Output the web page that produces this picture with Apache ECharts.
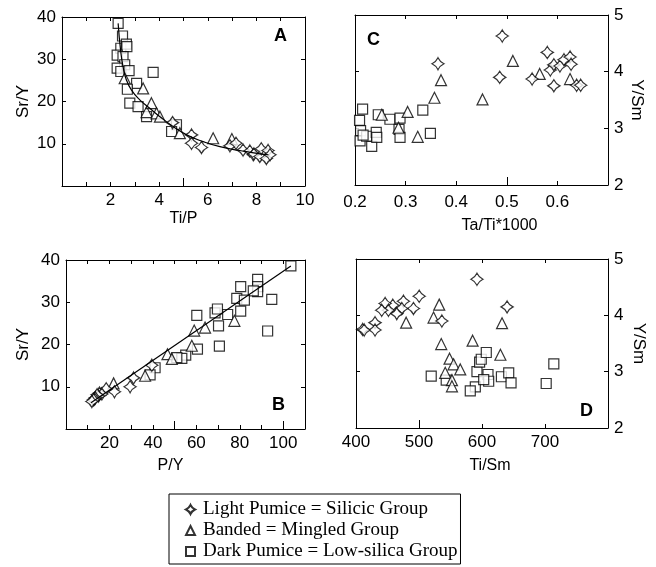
<!DOCTYPE html>
<html>
<head>
<meta charset="utf-8">
<title>Sr/Y and Y/Sm plots</title>
<script src="https://cdn.jsdelivr.net/npm/echarts@6/dist/echarts.min.js"></script>
<style>
  html, body { margin: 0; padding: 0; background: #fff; }
  #chart { width: 656px; height: 567px; }
</style>
</head>
<body>
<div id="chart"></div>
<script>
// 图例名
const LIGHT = 'Light Pumice = Silicic Group';
const BANDED = 'Banded = Mingled Group';
const DARK = 'Dark Pumice = Low-silica Group';

// A: Ti/P vs Sr/Y
const aLight = [[4.55, 15.0], [5.33, 12.1], [5.33, 10.1], [5.74, 9.1], [6.91, 9.5], [7.16, 10.1], [7.45, 8.5], [7.73, 8.3], [7.87, 7.4], [7.9, 7.6], [8.14, 7.0], [8.2, 8.8], [8.41, 6.5], [8.48, 8.4], [8.56, 7.4]];
const aBanded = [[2.58, 25.5], [3.34, 23.1], [3.48, 17.5], [3.68, 19.6], [3.89, 17.2], [4.03, 16.4], [4.85, 12.5], [6.22, 11.3], [6.99, 11.1]];
const aDark = [[2.31, 38.5], [2.49, 35.5], [2.42, 32.6], [2.65, 33.6], [2.67, 33.0], [2.27, 31.0], [2.51, 30.6], [2.58, 28.7], [2.27, 27.9], [2.42, 27.1], [2.76, 27.3], [3.75, 26.9], [3.07, 24.3], [2.69, 22.9], [2.79, 19.6], [3.13, 18.8], [3.48, 16.4], [4.71, 14.5], [4.51, 12.9]];
const aCurve = [[2.31, 38.5], [2.41, 32.2], [2.51, 28.3], [2.65, 25.1], [2.86, 22.7], [3.2, 20.4], [3.61, 18.4], [4.03, 16.4], [4.57, 14.1], [5.13, 12.1], [5.81, 10.5], [6.5, 9.3], [7.32, 8.4], [8.15, 7.6], [8.5, 7.4]];

// B: P/Y vs Sr/Y
const bLight = [[39.5, 15.1], [31.1, 12.1], [29.5, 10.0], [22.3, 8.8], [18.5, 9.5], [15.4, 8.5], [16.5, 8.3], [15.0, 7.8], [14.3, 8.1], [13.5, 7.4], [13.2, 7.1], [12.7, 6.9], [11.9, 6.5]];
const bBanded = [[77.5, 25.6], [59.0, 23.3], [64.0, 24.0], [57.9, 19.7], [46.7, 17.7], [48.7, 16.6], [36.4, 12.6], [21.9, 10.8]];
const bDark = [[103.5, 38.6], [88.2, 35.4], [88.2, 33.7], [88.2, 32.5], [86.2, 32.7], [80.4, 33.7], [78.6, 30.9], [82.1, 30.5], [94.7, 30.7], [80.4, 27.9], [92.8, 23.2], [60.2, 26.9], [68.6, 27.5], [69.7, 28.4], [74.4, 27.1], [70.2, 24.4], [60.5, 18.9], [70.6, 19.6], [55.1, 17.5], [53.3, 16.7], [51.0, 16.9], [41.0, 14.5], [38.7, 12.8]];
const bLine = [[11.5, 6.2], [103.5, 38.6]];

// C: Ta/Ti*1000 vs Y/Sm
const cLight = [[0.491, 4.63], [0.364, 4.14], [0.486, 3.90], [0.580, 4.34], [0.550, 3.87], [0.593, 3.75], [0.586, 4.03], [0.593, 4.12], [0.605, 4.10], [0.613, 4.21], [0.625, 4.26], [0.627, 4.13], [0.638, 3.76], [0.646, 3.76]];
const cBanded = [[0.370, 3.85], [0.357, 3.54], [0.452, 3.51], [0.512, 4.19], [0.565, 3.96], [0.625, 3.87], [0.304, 3.29], [0.324, 2.85], [0.253, 3.24], [0.286, 3.01]];
const cDark = [[0.209, 3.14], [0.215, 3.34], [0.211, 2.96], [0.210, 2.78], [0.223, 2.86], [0.233, 2.68], [0.242, 2.93], [0.243, 2.84], [0.246, 3.24], [0.269, 3.16], [0.289, 3.18], [0.287, 2.98], [0.289, 2.84], [0.334, 3.32], [0.349, 2.91], [0.216, 2.88]];

// D: Ti/Sm vs Y/Sm
const dLight = [[592, 4.64], [639.8, 4.15], [500.3, 4.34], [491.2, 4.12], [475.3, 4.25], [472.7, 4.12], [464.7, 4.03], [458.4, 4.18], [446.2, 4.21], [451.5, 4.09], [440.8, 4.09], [430.2, 3.87], [430.2, 3.74], [410.6, 3.75], [413, 3.74], [536.3, 3.90]];
const dBanded = [[532.1, 4.19], [523.1, 3.96], [479.6, 3.87], [631.8, 3.86], [585.1, 3.55], [535.3, 3.49], [629.2, 3.30], [548.5, 3.23], [554.9, 3.13], [565.5, 3.04], [541.6, 2.98], [552.3, 2.85], [552.3, 2.74]];
const dDark = [[519.4, 2.92], [543.2, 2.85], [592, 3.0], [596.2, 3.17], [598.8, 3.22], [606.8, 3.34], [589.4, 2.73], [581.4, 2.66], [609.5, 2.95], [610.6, 2.83], [602.7, 2.86], [630.8, 2.91], [642.4, 2.98], [646.1, 2.80], [701.9, 2.79], [714, 3.14]];

// tick labels
const aXLabels = [2, 4, 6, 8, 10];
const bXLabels = [20, 40, 60, 80, 100];
const cXLabels = [0.2, 0.3, 0.4, 0.5, 0.6];
const dXLabels = [400, 500, 600, 700];
const srYLabels = [10, 20, 30, 40];
const ySmLabels = [2, 3, 4, 5];

const sans = 'Liberation Sans, Arial, Helvetica, sans-serif';
// 浅色浮岩的四角星符号
const starPath = 'path://M0,-6 Q1.9,-1.9 6,0 Q1.9,1.9 0,6 Q-1.9,1.9 -6,0 Q-1.9,-1.9 0,-6 Z';

const panels = [
  { // A
    grid: { left: 62, top: 17, width: 243, height: 169 },
    x: { min: 0, max: 10, step: 1, labels: aXLabels, major: [5], name: 'Ti/P', margin: 6, gap: 25, shift: 0 },
    y: { min: 0, max: 40, step: 10, labels: srYLabels, name: 'Sr/Y', side: 'left', gap: 30 },
    light: aLight, banded: aBanded, dark: aDark, fit: aCurve, smooth: true
  },
  { // C
    grid: { left: 355, top: 15, width: 253, height: 170 },
    x: { min: 0.2, max: 0.7, step: 0.1, labels: cXLabels, major: [0.5], name: 'Ta/Ti*1000', margin: 9, gap: 33, shift: 36 },
    y: { min: 2, max: 5, step: 1, labels: ySmLabels, name: 'Y/Sm', side: 'right', gap: 20 },
    light: cLight, banded: cBanded, dark: cDark
  },
  { // B
    grid: { left: 66, top: 260, width: 239, height: 169 },
    x: { min: 0, max: 110, step: 10, labels: bXLabels, major: [50, 100], name: 'P/Y', margin: 6, gap: 29, shift: -30 },
    y: { min: 0, max: 40, step: 10, labels: srYLabels, name: 'Sr/Y', side: 'left', gap: 34 },
    light: bLight, banded: bBanded, dark: bDark, fit: bLine, smooth: false
  },
  { // D
    grid: { left: 356, top: 259, width: 252, height: 169 },
    x: { min: 400, max: 800, step: 100, labels: dXLabels, major: [500], name: 'Ti/Sm', margin: 6, gap: 30, shift: 16 },
    y: { min: 2, max: 5, step: 1, labels: ySmLabels, name: 'Y/Sm', side: 'right', gap: 22 },
    light: dLight, banded: dBanded, dark: dDark
  }
];

const lineStyle = { color: '#000', width: 1 };
const tickBase = { inside: true, length: 4, lineStyle: lineStyle };

const grids = [], xAxes = [], yAxes = [], series = [];

panels.forEach((p, i) => {
  grids.push(p.grid);
  const xBase = {
    gridIndex: i, type: 'value', min: p.x.min, max: p.x.max, interval: p.x.step,
    splitLine: { show: false },
    axisLine: { onZero: false, lineStyle: lineStyle },
    axisTick: tickBase
  };
  // 下轴（带刻度值），上轴（只有刻度），以及长刻度
  xAxes.push(Object.assign({}, xBase, {
    position: 'bottom',
    axisLabel: { customValues: p.x.labels, margin: p.x.margin, color: '#000', fontSize: 17, fontFamily: sans },
    name: p.x.name, nameLocation: 'middle', nameGap: p.x.gap,
    nameTextStyle: { color: '#000', fontSize: 16, fontFamily: sans, padding: [0, 0, 0, p.x.shift] }
  }));
  xAxes.push(Object.assign({}, xBase, { position: 'top', axisLabel: { show: false } }));
  xAxes.push(Object.assign({}, xBase, {
    position: 'bottom', axisLine: { show: false }, axisLabel: { show: false },
    axisTick: { inside: true, length: 8, customValues: p.x.major, lineStyle: lineStyle }
  }));

  const yBase = {
    gridIndex: i, type: 'value', min: p.y.min, max: p.y.max, interval: p.y.step,
    splitLine: { show: false },
    axisLine: { onZero: false, lineStyle: lineStyle },
    axisTick: tickBase
  };
  const other = p.y.side === 'left' ? 'right' : 'left';
  yAxes.push(Object.assign({}, yBase, {
    position: p.y.side,
    axisLabel: { customValues: p.y.labels, margin: 6, color: '#000', fontSize: 17, fontFamily: sans },
    name: p.y.name, nameLocation: 'middle', nameGap: p.y.gap,
    nameRotate: p.y.side === 'left' ? 90 : -90,
    nameTextStyle: { color: '#000', fontSize: 17, fontFamily: sans }
  }));
  yAxes.push(Object.assign({}, yBase, { position: other, axisLabel: { show: false } }));

  const common = {
    type: 'scatter', xAxisIndex: i * 3, yAxisIndex: i * 2,
    symbolSize: 10,
    itemStyle: { color: '#fff', borderColor: '#000', borderWidth: 1.2 },
    emphasis: { disabled: true }
  };
  series.push(Object.assign({}, common, { name: DARK, symbol: 'rect', data: p.dark }));
  series.push(Object.assign({}, common, { name: BANDED, symbol: 'triangle', symbolSize: 11, data: p.banded }));
  series.push(Object.assign({}, common, { name: LIGHT, symbol: starPath, symbolSize: 12, data: p.light }));
  if (p.fit) {
    series.push({
      type: 'line', name: 'fit', xAxisIndex: i * 3, yAxisIndex: i * 2, z: 5,
      data: p.fit, smooth: p.smooth, showSymbol: false, symbol: 'none',
      lineStyle: { color: '#000', width: 1.2 }
    });
  }
});

const letter = (t, x, y) => ({
  type: 'text', left: x, top: y,
  style: { text: t, fill: '#000', font: 'bold 18px ' + sans }
});

const option = {
  animation: false,
  backgroundColor: '#fff',
  grid: grids,
  xAxis: xAxes,
  yAxis: yAxes,
  series: series,
  legend: {
    orient: 'vertical', left: 169, top: 494,
    data: [LIGHT, BANDED, DARK],
    selectedMode: false,
    backgroundColor: '#fff', borderColor: '#000', borderWidth: 1, borderRadius: 0,
    padding: [6, 3, 3, 16], itemGap: 2, itemWidth: 9, itemHeight: 9,
    textStyle: { color: '#000', fontSize: 19, fontFamily: 'Liberation Serif, Times New Roman, serif', padding: [0, 0, 0, 3] }
  },
  graphic: [
    letter('A', 274, 27),
    letter('C', 367, 31),
    letter('B', 272, 396),
    letter('D', 580, 402)
  ]
};

const myChart = echarts.init(document.getElementById('chart'), null, { renderer: 'canvas' });
myChart.setOption(option);
</script>
</body>
</html>
